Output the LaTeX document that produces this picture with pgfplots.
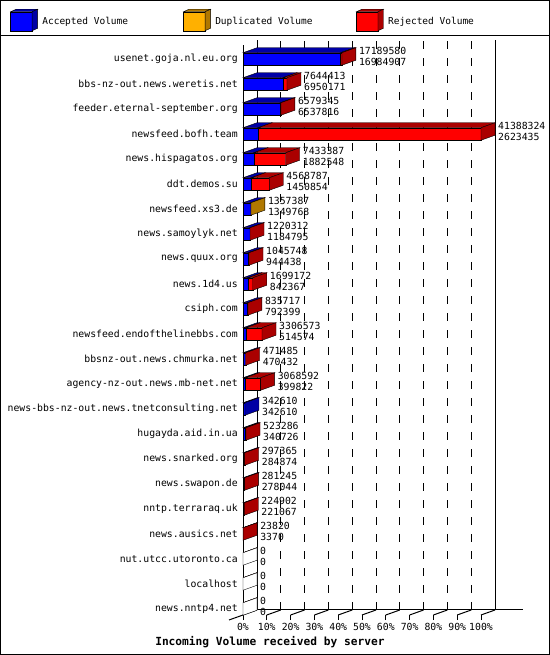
\documentclass[border=0pt]{standalone}
\usepackage{fontspec}
\setmainfont{DejaVu Sans Mono}
\usepackage{pgfplots}
\usepackage{pgfplotstable}
\pgfplotsset{compat=1.18}

\definecolor{accblue}{RGB}{0,0,255}
\definecolor{accdark}{RGB}{0,0,165}
\definecolor{dupfront}{RGB}{255,176,0}
\definecolor{dupdark}{RGB}{176,120,0}
\definecolor{rejred}{RGB}{255,0,0}
\definecolor{rejdark}{RGB}{170,0,0}

\newcommand\sm{\fontsize{9.8bp}{11bp}\selectfont}

% volumes per server: total, accepted, duplicated, rejected; last = colour of the end face
\pgfplotstableread{
name total acc dup rej last
usenet.goja.nl.eu.org 17189580 16984907 0 204673 r
bbs-nz-out.news.weretis.net 7644413 6950171 0 694242 r
feeder.eternal-september.org 6579345 6537816 0 41529 r
newsfeed.bofh.team 41388324 2623435 0 38764889 r
news.hispagatos.org 7433387 1882548 0 5550839 r
ddt.demos.su 4568787 1450854 0 3117933 r
newsfeed.xs3.de 1357387 1349768 7619 0 d
news.samoylyk.net 1220312 1184795 0 35517 r
news.quux.org 1045748 944438 0 101310 r
news.1d4.us 1699172 842367 0 856805 r
csiph.com 835717 792399 0 43318 r
newsfeed.endofthelinebbs.com 3306573 514574 0 2791999 r
bbsnz-out.news.chmurka.net 471485 470432 0 1053 r
agency-nz-out.news.mb-net.net 3068592 399822 0 2668770 r
news-bbs-nz-out.news.tnetconsulting.net 342610 342610 0 0 a
hugayda.aid.in.ua 523286 340726 0 182560 r
news.snarked.org 297365 284874 0 12491 r
news.swapon.de 281245 278044 0 3201 r
nntp.terraraq.uk 224902 221067 0 3835 r
news.ausics.net 23820 3370 0 20450 r
nut.utcc.utoronto.ca 0 0 0 0 z
localhost 0 0 0 0 z
news.nntp4.net 0 0 0 0 z
}\servers

% 3D faces of the bars: depth 14bp right, 5bp up; front face 12.5bp high
\pgfdeclareplotmark{topface}{%
  \pgfpathmoveto{\pgfpoint{0bp}{6.25bp}}%
  \pgfpathlineto{\pgfpoint{\len bp}{6.25bp}}%
  \pgfpathlineto{\pgfpoint{\len bp+14bp}{11.25bp}}%
  \pgfpathlineto{\pgfpoint{14bp}{11.25bp}}%
  \pgfpathclose
  \pgfusepathqfillstroke}
\pgfdeclareplotmark{sideface}{%
  \pgfpathmoveto{\pgfpoint{0bp}{-6.25bp}}%
  \pgfpathlineto{\pgfpoint{14bp}{-1.25bp}}%
  \pgfpathlineto{\pgfpoint{14bp}{11.25bp}}%
  \pgfpathlineto{\pgfpoint{0bp}{6.25bp}}%
  \pgfpathclose
  \pgfusepathqfillstroke}

\pgfplotsset{
  top3d/.style={forget plot, scatter, only marks, mark=topface,
    mark options={fill=#1, draw=black},
    scatter/@pre marker code/.code={\pgfmathsetmacro\len{\pgfplotspointmetatransformed*0.238}},
    scatter/@post marker code/.code={}},
  front/.style={forget plot, xbar, bar width=12.5bp, bar shift=0pt, fill=#1, draw=black},
  box3d/.style 2 args={legend image code/.code={
    \draw[fill=#1] (0bp,-9.5bp) rectangle (21.5bp,9.5bp);
    \draw[fill=#2] (0bp,9.5bp) -- (5.5bp,12bp) -- (27bp,12bp) -- (21.5bp,9.5bp) -- cycle;
    \draw[fill=#2] (21.5bp,-9.5bp) -- (27bp,-7bp) -- (27bp,12bp) -- (21.5bp,9.5bp) -- cycle;}},
}

\begin{document}
\begin{tikzpicture}[line width=1bp]
\useasboundingbox (0bp,0bp) rectangle (550bp,655bp);
\draw (0.5bp,0.5bp) rectangle (549.5bp,654.5bp);
\draw (0bp,619bp) -- (550bp,619bp);
% walls and floor of the 3D frame
\draw (257bp,45bp) -- (257bp,615bp);
\draw (243bp,40bp) -- (243bp,610bp);
\draw (495bp,45bp) -- (495bp,615bp);
\draw (257bp,45bp) -- (523bp,45bp);
\draw (229bp,35bp) -- (257bp,45bp);
\foreach \k in {1,...,10} \draw ({243bp+23.8bp*\k},40bp) -- ({257bp+23.8bp*\k},45bp);
\foreach \k in {1,...,9} \draw[line width=0.9bp, dash pattern=on 8bp off 9bp] ({257bp+23.8bp*\k},45bp) -- ({257bp+23.8bp*\k},615bp);

\begin{axis}[
  at={(243bp,40bp)}, anchor=south west,
  x=2.38bp, y=25bp,
  xmin=0, xmax=100, ymin=-0.24, ymax=22.76,
  enlargelimits=false, clip=false,
  axis lines*=left, axis line style={draw=none},
  tick align=outside, major tick length=5bp,
  tick style={black, line width=1bp},
  ytick style={draw=none},
  xtick={0,10,...,100},
  xticklabels={0\%,10\%,20\%,30\%,40\%,50\%,60\%,70\%,80\%,90\%,100\%},
  ytick={0,...,22},
  yticklabels={news.nntp4.net, localhost, nut.utcc.utoronto.ca, news.ausics.net,
    nntp.terraraq.uk, news.swapon.de, news.snarked.org, hugayda.aid.in.ua,
    news-bbs-nz-out.news.tnetconsulting.net, agency-nz-out.news.mb-net.net,
    bbsnz-out.news.chmurka.net, newsfeed.endofthelinebbs.com, csiph.com,
    news.1d4.us, news.quux.org, news.samoylyk.net, newsfeed.xs3.de,
    ddt.demos.su, news.hispagatos.org, newsfeed.bofh.team,
    feeder.eternal-september.org, bbs-nz-out.news.weretis.net,
    usenet.goja.nl.eu.org},
  tick label style={font=\sm},
  yticklabel style={inner sep=0pt, xshift=0bp},
  xticklabel style={inner sep=3.5bp},
  xlabel={Incoming Volume received by server},
  xlabel style={at={(axis description cs:0.113,0)}, anchor=center, yshift=-27bp,
    font=\bfseries\fontsize{11.2bp}{12bp}\selectfont},
  point meta min=0, point meta max=100,
  legend columns=3,
  legend cell align=left,
  legend style={at={(axis description cs:-0.977,1.0348)}, anchor=west,
    draw=none, fill=none, inner sep=0pt, outer sep=0pt,
    nodes={inner sep=0pt}, font=\fontsize{9.5bp}{11bp}\selectfont,
    /tikz/every odd column/.append style={column sep=4.5bp}},
]
% front faces (drawn back to front so they look stacked)
\addplot[front=rejred] table[x expr=\thisrow{total}/413883.24, y expr=22-\coordindex]{\servers};
\addplot[front=dupfront] table[x expr=(\thisrow{acc}+\thisrow{dup})/413883.24, y expr=22-\coordindex]{\servers};
\addplot[front=accblue] table[x expr=\thisrow{acc}/413883.24, y expr=22-\coordindex]{\servers};
% top faces of each segment
\addplot[top3d=accdark, point meta={\thisrow{acc}/413883.24}]
  table[x expr=0, y expr=22-\coordindex]{\servers};
\addplot[top3d=dupdark, point meta={\thisrow{dup}/413883.24}]
  table[x expr=\thisrow{acc}/413883.24, y expr=22-\coordindex]{\servers};
\addplot[top3d=rejdark, point meta={\thisrow{rej}/413883.24}]
  table[x expr=(\thisrow{acc}+\thisrow{dup})/413883.24, y expr=22-\coordindex]{\servers};
% end faces
\addplot[forget plot, scatter, only marks, mark=sideface, mark options={draw=black},
  point meta=explicit symbolic,
  scatter/classes={a={fill=accdark}, d={fill=dupdark}, r={fill=rejdark}, z={fill=white}}]
  table[x expr=\thisrow{total}/413883.24, y expr=22-\coordindex, meta=last]{\servers};
% value labels: total on top, accepted below
\addplot[forget plot, draw=none, mark=none, nodes near coords, point meta=explicit symbolic,
  every node near coord/.append style={anchor=west, inner sep=0pt, xshift=17bp, yshift=8bp, font=\sm}]
  table[x expr=\thisrow{total}/413883.24, y expr=22-\coordindex, meta=total]{\servers};
\addplot[forget plot, draw=none, mark=none, nodes near coords, point meta=explicit symbolic,
  every node near coord/.append style={anchor=west, inner sep=0pt, xshift=17bp, yshift=-3bp, font=\sm}]
  table[x expr=\thisrow{total}/413883.24, y expr=22-\coordindex, meta=acc]{\servers};
\addlegendimage{box3d={accblue}{accdark}}
\addlegendentry{\makebox[141bp][l]{Accepted Volume}}
\addlegendimage{box3d={dupfront}{dupdark}}
\addlegendentry{\makebox[141bp][l]{Duplicated Volume}}
\addlegendimage{box3d={rejred}{rejdark}}
\addlegendentry{Rejected Volume}
\end{axis}
\end{tikzpicture}
\end{document}
